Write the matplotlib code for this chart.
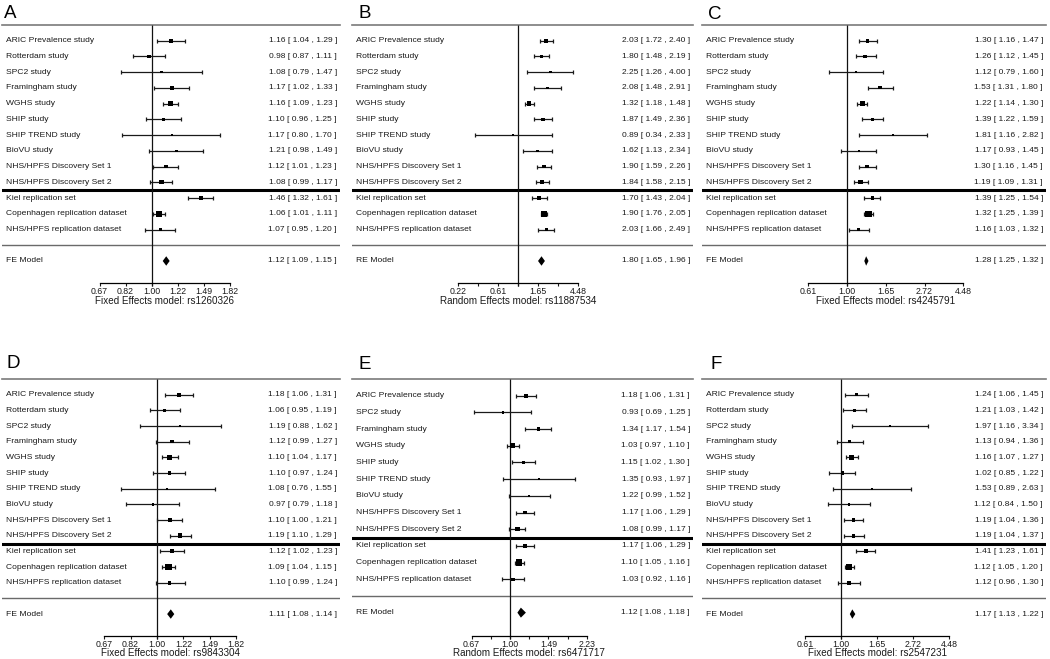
import numpy as np
import matplotlib.pyplot as plt

plt.rcParams['font.family'] = ['Liberation Sans', 'DejaVu Sans']

# study rows (panel E has no Rotterdam row)
studies = ['ARIC Prevalence study', 'Rotterdam study', 'SPC2 study', 'Framingham study',
           'WGHS study', 'SHIP study', 'SHIP TREND study', 'BioVU study',
           'NHS/HPFS Discovery Set 1', 'NHS/HPFS Discovery Set 2',
           'Kiel replication set', 'Copenhagen replication dataset',
           'NHS/HPFS replication dataset']
studies_e = [s for s in studies if s != 'Rotterdam study']
n_replication = 3

# A: rs1260326 (fixed effects)
a_or = [1.16, 0.98, 1.08, 1.17, 1.16, 1.10, 1.17, 1.21, 1.12, 1.08, 1.46, 1.06, 1.07]
a_lo = [1.04, 0.87, 0.79, 1.02, 1.09, 0.96, 0.80, 0.98, 1.01, 0.99, 1.32, 1.01, 0.95]
a_hi = [1.29, 1.11, 1.47, 1.33, 1.23, 1.25, 1.70, 1.49, 1.23, 1.17, 1.61, 1.11, 1.20]
a_model = [1.12, 1.09, 1.15]

# B: rs11887534 (random effects)
b_or = [2.03, 1.80, 2.25, 2.08, 1.32, 1.87, 0.89, 1.62, 1.90, 1.84, 1.70, 1.90, 2.03]
b_lo = [1.72, 1.48, 1.26, 1.48, 1.18, 1.49, 0.34, 1.13, 1.59, 1.58, 1.43, 1.76, 1.66]
b_hi = [2.40, 2.19, 4.00, 2.91, 1.48, 2.36, 2.33, 2.34, 2.26, 2.15, 2.04, 2.05, 2.49]
b_model = [1.80, 1.65, 1.96]

# C: rs4245791 (fixed effects)
c_or = [1.30, 1.26, 1.12, 1.53, 1.22, 1.39, 1.81, 1.17, 1.30, 1.19, 1.39, 1.32, 1.16]
c_lo = [1.16, 1.12, 0.79, 1.31, 1.14, 1.22, 1.16, 0.93, 1.16, 1.09, 1.25, 1.25, 1.03]
c_hi = [1.47, 1.45, 1.60, 1.80, 1.30, 1.59, 2.82, 1.45, 1.45, 1.31, 1.54, 1.39, 1.32]
c_model = [1.28, 1.25, 1.32]

# D: rs9843304 (fixed effects)
d_or = [1.18, 1.06, 1.19, 1.12, 1.10, 1.10, 1.08, 0.97, 1.10, 1.19, 1.12, 1.09, 1.10]
d_lo = [1.06, 0.95, 0.88, 0.99, 1.04, 0.97, 0.76, 0.79, 1.00, 1.10, 1.02, 1.04, 0.99]
d_hi = [1.31, 1.19, 1.62, 1.27, 1.17, 1.24, 1.55, 1.18, 1.21, 1.29, 1.23, 1.15, 1.24]
d_model = [1.11, 1.08, 1.14]

# E: rs6471717 (random effects)
e_or = [1.18, 0.93, 1.34, 1.03, 1.15, 1.35, 1.22, 1.17, 1.08, 1.17, 1.10, 1.03]
e_lo = [1.06, 0.69, 1.17, 0.97, 1.02, 0.93, 0.99, 1.06, 0.99, 1.06, 1.05, 0.92]
e_hi = [1.31, 1.25, 1.54, 1.10, 1.30, 1.97, 1.52, 1.29, 1.17, 1.29, 1.16, 1.16]
e_model = [1.12, 1.08, 1.18]

# F: rs2547231 (fixed effects)
f_or = [1.24, 1.21, 1.97, 1.13, 1.16, 1.02, 1.53, 1.12, 1.19, 1.19, 1.41, 1.12, 1.12]
f_lo = [1.06, 1.03, 1.16, 0.94, 1.07, 0.85, 0.89, 0.84, 1.04, 1.04, 1.23, 1.05, 0.96]
f_hi = [1.45, 1.42, 3.34, 1.36, 1.27, 1.22, 2.63, 1.50, 1.36, 1.37, 1.61, 1.20, 1.30]
f_model = [1.17, 1.13, 1.22]

W, H = 1050, 659

panels = [
    dict(letter='A', names=studies, est=a_or, lo=a_lo, hi=a_hi, model=a_model,
         model_label='FE Model', xlabel='Fixed Effects model: rs1260326',
         at=[-0.4, -0.2, 0.0, 0.2, 0.4, 0.6], every=1,
         box=(2, 340, 25, 283), p0=151.5, scale=130, letter_xy=(4, 18)),
    dict(letter='B', names=studies, est=b_or, lo=b_lo, hi=b_hi, model=b_model,
         model_label='RE Model', xlabel='Random Effects model: rs11887534',
         at=[-1.5, -1.0, -0.5, 0.0, 0.5, 1.0, 1.5], every=2,
         box=(352, 693, 25, 283), p0=518, scale=40, letter_xy=(358, 18)),
    dict(letter='C', names=studies, est=c_or, lo=c_lo, hi=c_hi, model=c_model,
         model_label='FE Model', xlabel='Fixed Effects model: rs4245791',
         at=[-0.5, 0.0, 0.5, 1.0, 1.5], every=1,
         box=(702, 1046, 25, 283), p0=847, scale=77.5, letter_xy=(708, 19)),
    dict(letter='D', names=studies, est=d_or, lo=d_lo, hi=d_hi, model=d_model,
         model_label='FE Model', xlabel='Fixed Effects model: rs9843304',
         at=[-0.4, -0.2, 0.0, 0.2, 0.4, 0.6], every=1,
         box=(2, 340, 379, 636), p0=157, scale=132, letter_xy=(7, 368)),
    dict(letter='E', names=studies_e, est=e_or, lo=e_lo, hi=e_hi, model=e_model,
         model_label='RE Model', xlabel='Random Effects model: rs6471717',
         at=[-0.4, -0.2, 0.0, 0.2, 0.4, 0.6, 0.8], every=2,
         box=(352, 693, 379, 636), p0=510, scale=96, letter_xy=(358, 369)),
    dict(letter='F', names=studies, est=f_or, lo=f_lo, hi=f_hi, model=f_model,
         model_label='FE Model', xlabel='Fixed Effects model: rs2547231',
         at=[-0.5, 0.0, 0.5, 1.0, 1.5], every=1,
         box=(702, 1046, 379, 636), p0=841, scale=72, letter_xy=(710, 369)),
]


def draw_panel(fig, p):
    L, R, T, B = p['box']
    ax = fig.add_axes([L / W, 1 - B / H, (R - L) / W, (B - T) / H])
    ax.patch.set_alpha(0)
    ax.set_xscale('log')
    ax.set_xlim(np.exp((L - p['p0']) / p['scale']), np.exp((R - p['p0']) / p['scale']))

    names = p['names']
    k = len(names)
    y = np.arange(k, 0, -1)
    ybot = -2.4
    ax.set_ylim(ybot, k + 1)

    est, lo, hi = np.array(p['est']), np.array(p['lo']), np.array(p['hi'])

    # box size from inverse standard error, scaled 0.5..1.5 like metafor
    se = (np.log(hi) - np.log(lo)) / (2 * 1.96)
    w = 1 / se
    w = w / w.sum()
    psize = (w - w.min()) / (w.max() - w.min()) + 0.5

    ax.errorbar(est, y, xerr=[est - lo, hi - est], fmt='none', ecolor='#1a1a1a',
                elinewidth=0.9, capsize=1.5, capthick=0.9, zorder=3)
    ax.scatter(est, y, s=(psize * 3.0) ** 2, marker='s', color='black', lw=0, zorder=4)

    # summary diamond
    m_est, m_lo, m_hi = p['model']
    ym = -1
    ax.fill([m_lo, m_est, m_hi, m_est], [ym, ym + 0.3, ym, ym - 0.3], color='black', lw=0, zorder=4)

    # lines
    ax.axhline(k + 1, color='#7a7a7a', lw=1.2, clip_on=False)
    ax.axhline(n_replication + 0.5, color='black', lw=2.2)
    ax.axhline(0, color='#6a6a6a', lw=1.0)
    ax.vlines(1, ybot - 0.2, k + 1, color='#111111', lw=0.9, clip_on=False)

    # text columns
    ty = ax.get_yaxis_transform()
    rx = 1 - 3 / (R - L)
    for yi, name, e, l, h in zip(y, names, est, lo, hi):
        ax.text(0.012, yi, name, transform=ty, ha='left', va='center', fontsize=6.1, color='#1a1a1a')
        ax.text(rx, yi, f'{e:.2f} [ {l:.2f} , {h:.2f} ]', transform=ty, ha='right',
                va='center', fontsize=6.0, color='#1a1a1a')
    ax.text(0.012, ym, p['model_label'], transform=ty, ha='left', va='center', fontsize=6.1, color='#1a1a1a')
    ax.text(rx, ym, f'{m_est:.2f} [ {m_lo:.2f} , {m_hi:.2f} ]', transform=ty, ha='right',
            va='center', fontsize=6.0, color='#1a1a1a')

    # x axis
    at = np.exp(np.array(p['at']))
    labels = [f'{v:.2f}' if i % p['every'] == 0 else '' for i, v in enumerate(at)]
    ax.set_xticks(at, labels)
    ax.minorticks_off()
    ax.set_yticks([])
    for s in ['left', 'right', 'top']:
        ax.spines[s].set_visible(False)
    ax.spines['bottom'].set_bounds(at[0], at[-1])
    ax.spines['bottom'].set_linewidth(0.9)
    ax.tick_params(axis='x', direction='out', length=2.2, width=0.8, pad=0.4,
                   labelsize=6.3, colors='#1a1a1a')
    mid = np.exp((p['at'][0] + p['at'][-1]) / 2)
    ax.annotate(p['xlabel'], xy=(mid, 0), xycoords=('data', 'axes fraction'),
                xytext=(0, -9.0), textcoords='offset points', ha='center', va='top',
                fontsize=7.1, color='#1a1a1a')

    lx, ly = p['letter_xy']
    fig.text(lx / W, 1 - ly / H, p['letter'], fontsize=13.5, ha='left', va='baseline')


fig = plt.figure(figsize=(W / 100, H / 100), dpi=100)
for p in panels:
    draw_panel(fig, p)
fig.savefig('out.png', dpi=100, facecolor='white')
